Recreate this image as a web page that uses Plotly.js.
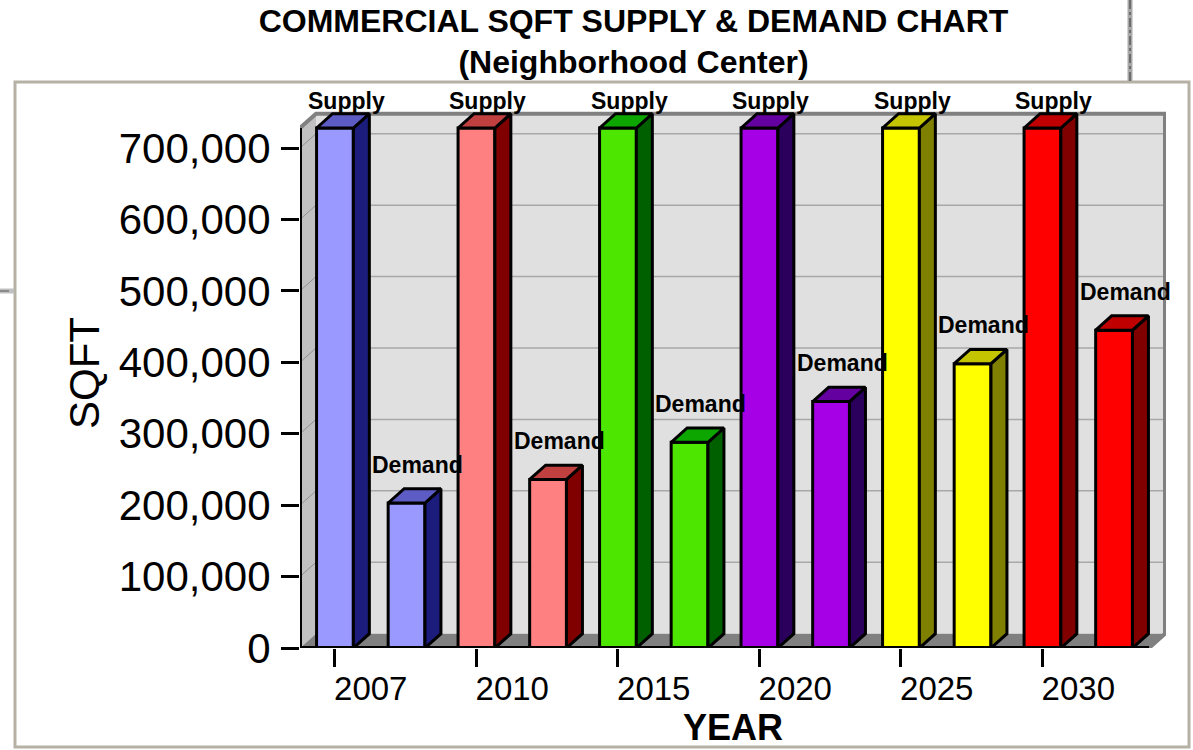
<!DOCTYPE html>
<html>
<head>
<meta charset="utf-8">
<script src="https://cdn.plot.ly/plotly-3.0.1.min.js"></script>
<style>
  html, body { margin: 0; padding: 0; background: #ffffff; }
  #chart { width: 1193px; height: 750px; }
</style>
</head>
<body>
<div id="chart"></div>
<script>
// ---------------- DATA ----------------
const years = ['2007', '2010', '2015', '2020', '2025', '2030'];
const seriesNames = ['Supply', 'Demand'];
const supply = [728000, 728000, 728000, 728000, 728000, 728000];
const demand = [203000, 236000, 288000, 345000, 398000, 445000];
const yTickValues = [0, 100000, 200000, 300000, 400000, 500000, 600000, 700000];

// ---------------- STYLE ----------------
const frontColors = ['#9999FF', '#FF8080', '#4CE600', '#A600E6', '#FFFF00', '#FF0000'];
const topColors   = ['#5C5CC4', '#C04040', '#0DA600', '#6400A0', '#C4C400', '#C00000'];
const sideColors  = ['#1C1C7C', '#800000', '#006000', '#2A005C', '#808000', '#800000'];

const FONT = 'Liberation Sans, Arial, Helvetica, sans-serif';
const DX = 0.113;          // depth offset in x (category units)
const DY = 20000;          // depth offset in y (value units)
const WALL_TOP = 728000;   // height of the chart walls
const BAR_W = 0.26;
const SERIES_OFFSET = [-0.253, 0.253];
const LABEL_SHIFT = [13, 24];
const OUTLINE = 3;

// plot-area geometry (pixels) for frame decorations
const M = {l: 300, r: 27, t: 98, b: 102};
const PW = 1193 - M.l - M.r, PH = 750 - M.t - M.b;
const px = x => (x - M.l) / PW;
const py = y => (750 - M.b - y) / PH;

const seriesValues = [supply, demand];
const traces = [];

// front faces (real bar traces)
seriesValues.forEach((vals, s) => {
  traces.push({
    type: 'bar',
    name: seriesNames[s],
    x: years.map((_, i) => i + SERIES_OFFSET[s]),
    y: vals,
    width: BAR_W,
    marker: {color: frontColors, line: {color: '#000000', width: OUTLINE}},
    hovertext: years.map(yr => seriesNames[s] + ' ' + yr),
    showlegend: false
  });
});

// side and top faces computed from the same values
years.forEach((yr, i) => {
  const sx = [], sy = [], tx = [], ty = [];
  seriesValues.forEach((vals, s) => {
    const c = i + SERIES_OFFSET[s];
    const v = vals[i];
    const xl = c - BAR_W / 2, xr = c + BAR_W / 2;
    sx.push(xr, xr, xr + DX, xr + DX, xr, null);
    sy.push(0, v, v + DY, DY, 0, null);
    tx.push(xl, xr, xr + DX, xl + DX, xl, null);
    ty.push(v, v, v + DY, v + DY, v, null);
  });
  traces.push({type: 'scatter', mode: 'lines', x: sx, y: sy, fill: 'toself',
    fillcolor: sideColors[i], line: {color: '#000000', width: OUTLINE},
    hoverinfo: 'skip', showlegend: false});
  traces.push({type: 'scatter', mode: 'lines', x: tx, y: ty, fill: 'toself',
    fillcolor: topColors[i], line: {color: '#000000', width: OUTLINE},
    hoverinfo: 'skip', showlegend: false});
});

// invisible trace to carry the tick-mark axis
traces.push({type: 'scatter', mode: 'markers', xaxis: 'x2', yaxis: 'y',
  x: years.map((_, i) => i + SERIES_OFFSET[0]), y: years.map(() => 0),
  marker: {opacity: 0}, hoverinfo: 'skip', showlegend: false});

// labels above each bar
const annotations = [];
seriesValues.forEach((vals, s) => {
  years.forEach((yr, i) => {
    annotations.push({
      x: i + SERIES_OFFSET[s] + DX * 0.7, y: vals[i] + DY,
      xref: 'x', yref: 'y', text: '<b>' + seriesNames[s] + '</b>',
      showarrow: false, yanchor: 'middle', xanchor: 'center', yshift: LABEL_SHIFT[s],
      font: {family: FONT, size: 23, color: '#000000'}
    });
  });
});

// walls, floor, gridlines, axis lines
const shapes = [];
const xL = -0.5, xR = years.length - 0.5;
shapes.push({type: 'rect', layer: 'below', xref: 'x', yref: 'y',
  x0: xL + DX, x1: xR + DX, y0: DY, y1: WALL_TOP + DY,
  fillcolor: '#E0E0E0', line: {width: 0}});
shapes.push({type: 'path', layer: 'below', xref: 'x', yref: 'y',
  path: `M ${xL},0 L ${xL},${WALL_TOP} L ${xL + DX},${WALL_TOP + DY} L ${xL + DX},${DY} Z`,
  fillcolor: '#C0C0C0', line: {width: 0}});
yTickValues.slice(1).forEach(v => {
  shapes.push({type: 'line', layer: 'below', xref: 'x', yref: 'y',
    x0: xL + DX, x1: xR + DX, y0: v + DY, y1: v + DY, line: {color: '#A8A8A8', width: 1.5}});
  shapes.push({type: 'line', layer: 'below', xref: 'x', yref: 'y',
    x0: xL, x1: xL + DX, y0: v, y1: v + DY, line: {color: '#909090', width: 1}});
});
shapes.push({type: 'path', layer: 'below', xref: 'x', yref: 'y',
  path: `M ${xL},0 L ${xR},0 L ${xR + DX},${DY} L ${xL + DX},${DY} Z`,
  fillcolor: '#808080', line: {width: 0}});
// wall borders
shapes.push({type: 'path', layer: 'below', xref: 'x', yref: 'y',
  path: `M ${xL},${WALL_TOP} L ${xL + DX},${WALL_TOP + DY} L ${xR + DX},${WALL_TOP + DY} L ${xR + DX},${DY} L ${xR},0`,
  line: {color: '#808080', width: 4}});
// axis lines
shapes.push({type: 'line', layer: 'above', xref: 'x', yref: 'y',
  x0: xL, x1: xL, y0: 0, y1: WALL_TOP, line: {color: '#000000', width: 4}});
shapes.push({type: 'line', layer: 'above', xref: 'x', yref: 'y',
  x0: xL, x1: xR, y0: 0, y1: 0, line: {color: '#000000', width: 4}});

// outer frame decorations
const frameCol = '#B5B1A4';
shapes.push({type: 'rect', xref: 'paper', yref: 'paper',
  x0: px(15), x1: px(1189), y0: py(82), y1: py(747), line: {color: frameCol, width: 3}});
shapes.push({type: 'line', xref: 'paper', yref: 'paper',
  x0: px(1130), x1: px(1130), y0: py(0), y1: py(81), line: {color: '#A8A8A8', width: 5}});
shapes.push({type: 'line', xref: 'paper', yref: 'paper',
  x0: px(1130), x1: px(1130), y0: py(0), y1: py(81), line: {color: '#333333', width: 1, dash: 'dashdot'}});
shapes.push({type: 'line', xref: 'paper', yref: 'paper',
  x0: px(0), x1: px(14), y0: py(291), y1: py(291), line: {color: '#C0C0C0', width: 5}});
shapes.push({type: 'line', xref: 'paper', yref: 'paper',
  x0: px(0), x1: px(14), y0: py(291), y1: py(291), line: {color: '#555555', width: 1, dash: 'dash'}});

const xRange = [-0.5, years.length - 0.5 + 0.12];

const layout = {
  width: 1193, height: 750,
  margin: M,
  paper_bgcolor: '#FFFFFF', plot_bgcolor: 'rgba(0,0,0,0)',
  barmode: 'overlay',
  showlegend: false,
  font: {family: FONT, color: '#000000'},
  title: {
    text: '<b>COMMERCIAL SQFT SUPPLY & DEMAND CHART<br>(Neighborhood Center)</b>',
    font: {family: FONT, size: 32, color: '#000000'},
    x: 0.531, xanchor: 'center', xref: 'container',
    y: 0.958, yanchor: 'top', yref: 'container'
  },
  xaxis: {
    range: xRange, showgrid: false, zeroline: false, showline: false,
    tickmode: 'array', tickvals: years.map((_, i) => i), ticktext: years,
    ticks: '', ticklabelstandoff: 18,
    tickfont: {family: FONT, size: 33, color: '#000000'},
    title: {text: '<b>YEAR</b>', font: {family: FONT, size: 36, color: '#000000'}, standoff: 6},
    fixedrange: true
  },
  xaxis2: {
    overlaying: 'x', anchor: 'y', side: 'bottom', range: xRange,
    showgrid: false, zeroline: false, showline: false, showticklabels: false,
    tickmode: 'array', tickvals: years.map((_, i) => i + SERIES_OFFSET[0]),
    ticks: 'outside', ticklen: 18, tickwidth: 3, tickcolor: '#000000'
  },
  yaxis: {
    range: [0, 770000], showgrid: false, zeroline: false, showline: false,
    tickmode: 'array', tickvals: yTickValues, tickformat: ',d',
    ticks: 'outside', ticklen: 18, tickwidth: 3, tickcolor: '#000000',
    ticklabelstandoff: 2,
    tickfont: {family: FONT, size: 42, color: '#000000'},
    title: {text: 'SQFT', font: {family: FONT, size: 42, color: '#000000'}, standoff: 6},
    fixedrange: true
  },
  shapes: shapes,
  annotations: annotations
};

Plotly.newPlot('chart', traces, layout, {displayModeBar: false, staticPlot: true});
</script>
</body>
</html>
